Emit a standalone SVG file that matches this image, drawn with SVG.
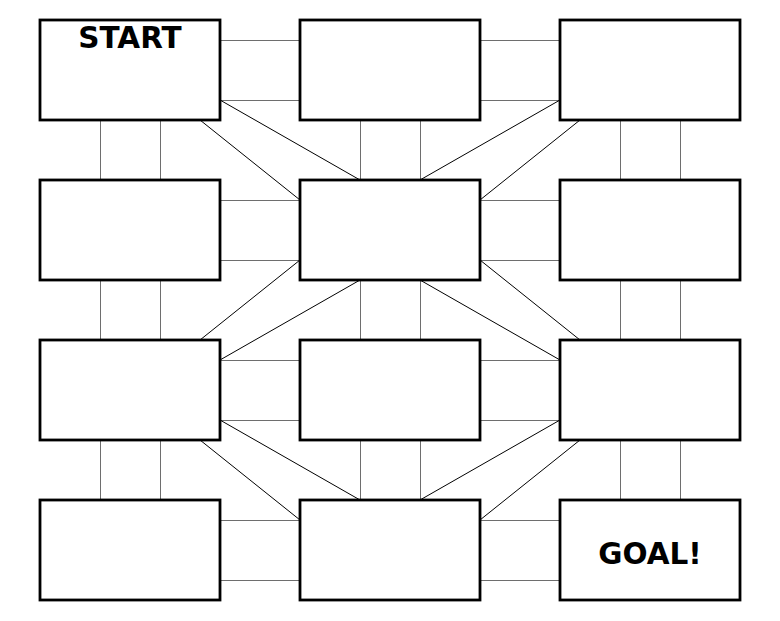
<svg xmlns="http://www.w3.org/2000/svg" width="780" height="621" viewBox="0 0 780 621">
<style>
.box{fill:#fff;stroke:#000;stroke-width:2.8}
.ln{stroke:#6e6e6e;stroke-width:1;fill:none;shape-rendering:crispEdges}
.dg{stroke:#000;stroke-width:1;fill:none}
.lbl{font-family:"DejaVu Sans",sans-serif;font-weight:bold;font-size:29.5px;text-anchor:middle;fill:#000}
</style>
<rect width="780" height="621" fill="#fff"/>
<g id="connectors">
<g class="ln">
<path d="M220 40.5H300M220 100.5H300M480 40.5H560M480 100.5H560"/>
<path d="M220 200.5H300M220 260.5H300M480 200.5H560M480 260.5H560"/>
<path d="M220 360.5H300M220 420.5H300M480 360.5H560M480 420.5H560"/>
<path d="M220 520.5H300M220 580.5H300M480 520.5H560M480 580.5H560"/>
<path d="M100.5 120V180M160.5 120V180M360.5 120V180M420.5 120V180M620.5 120V180M680.5 120V180"/>
<path d="M100.5 280V340M160.5 280V340M360.5 280V340M420.5 280V340M620.5 280V340M680.5 280V340"/>
<path d="M100.5 440V500M160.5 440V500M360.5 440V500M420.5 440V500M620.5 440V500M680.5 440V500"/>
</g>
<g class="dg">
<path d="M220 100L360 180M200 120L300 200M560 100L420 180M580 120L480 200"/>
<path d="M300 260L200 340M360 280L220 360M480 260L580 340M420 280L560 360"/>
<path d="M220 420L360 500M200 440L300 520M560 420L420 500M580 440L480 520"/>
</g>
</g>
<g id="n1"><rect class="box" x="40" y="20" width="180" height="100"/><text class="lbl" x="130" y="48">START</text></g>
<g id="n2"><rect class="box" x="300" y="20" width="180" height="100"/></g>
<g id="n3"><rect class="box" x="560" y="20" width="180" height="100"/></g>
<g id="n4"><rect class="box" x="40" y="180" width="180" height="100"/></g>
<g id="n5"><rect class="box" x="300" y="180" width="180" height="100"/></g>
<g id="n6"><rect class="box" x="560" y="180" width="180" height="100"/></g>
<g id="n7"><rect class="box" x="40" y="340" width="180" height="100"/></g>
<g id="n8"><rect class="box" x="300" y="340" width="180" height="100"/></g>
<g id="n9"><rect class="box" x="560" y="340" width="180" height="100"/></g>
<g id="n10"><rect class="box" x="40" y="500" width="180" height="100"/></g>
<g id="n11"><rect class="box" x="300" y="500" width="180" height="100"/></g>
<g id="n12"><rect class="box" x="560" y="500" width="180" height="100"/><text class="lbl" x="650" y="564">GOAL!</text></g>
</svg>
